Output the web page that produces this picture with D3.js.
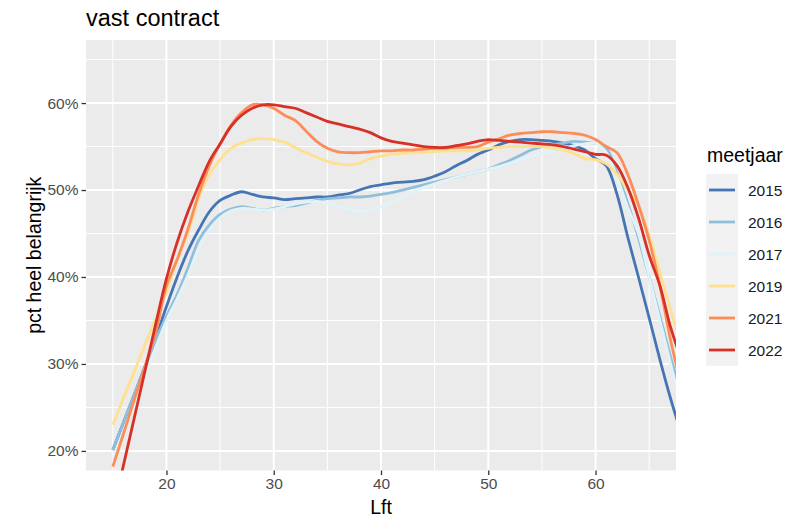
<!DOCTYPE html>
<html>
<head>
<meta charset="utf-8">
<script src="https://cdn.jsdelivr.net/npm/d3@7"></script>
<style>
  body { margin: 0; background: #fff; }
  text { font-family: "Liberation Sans", Arial, sans-serif; }
</style>
</head>
<body>
<div id="chart"></div>
<script>
// leeftijd 15..68
const ages = d3.range(15, 69);

const years = ["2015", "2016", "2017", "2019", "2021", "2022"];
const colors = ["#4575b4", "#91bfdb", "#e0f3f8", "#fee090", "#fc8d59", "#d73027"];

const xTicks = [20, 30, 40, 50, 60];
const yTicks = [0.2, 0.3, 0.4, 0.5, 0.6];

const v2015 = [20.1, 23.3, 26.5, 29.7, 33.0, 36.6, 40.0, 43.0, 45.4, 47.5, 48.8, 49.4, 49.8, 49.5, 49.2,
  49.1, 48.9, 49.0, 49.1, 49.2, 49.2, 49.4, 49.6, 50.0, 50.4, 50.6, 50.8, 50.9, 51.0, 51.2,
  51.6, 52.1, 52.8, 53.4, 54.1, 54.6, 55.2, 55.6, 55.8, 55.8, 55.7, 55.6, 55.4, 55.1, 54.6,
  53.6, 52.8, 49.5, 44.6, 40.0, 35.3, 30.5, 26.0, 22.0];
const v2016 = [20.1, 23.3, 26.5, 29.6, 32.8, 35.5, 38.0, 41.0, 44.2, 46.0, 47.2, 47.8, 48.1, 47.9, 47.7,
  47.9, 48.1, 48.2, 48.5, 48.8, 49.0, 49.1, 49.2, 49.2, 49.3, 49.5, 49.7, 50.0, 50.3, 50.6,
  50.9, 51.2, 51.5, 51.8, 52.1, 52.4, 52.9, 53.4, 54.0, 54.6, 55.0, 55.2, 55.4, 55.6, 55.5,
  55.4, 54.8, 52.0, 48.5, 44.5, 40.0, 35.5, 30.8, 26.5];
const v2017 = [19.0, 22.2, 25.4, 28.6, 31.8, 35.0, 37.5, 40.2, 43.2, 45.3, 46.8, 47.6, 47.9, 47.8, 47.7,
  47.8, 48.1, 48.4, 48.6, 48.7, 48.5, 48.1, 47.8, 47.5, 47.7, 48.1, 48.6, 49.2, 49.8, 50.3,
  50.7, 51.1, 51.5, 51.8, 52.1, 52.4, 52.7, 53.1, 53.5, 53.9, 54.2, 54.5, 54.8, 55.1, 55.3,
  55.4, 54.3, 51.5, 48.0, 45.0, 40.0, 35.0, 30.0, 25.0];
const v2019 = [23.0, 26.1, 29.1, 32.2, 35.2, 38.3, 42.0, 45.0, 49.0, 51.8, 53.5, 54.8, 55.4, 55.8, 55.9,
  55.8, 55.5, 54.9, 54.3, 53.8, 53.3, 53.0, 52.9, 53.1, 53.6, 53.9, 54.1, 54.2, 54.3, 54.4,
  54.4, 54.5, 54.5, 54.5, 54.6, 54.8, 54.9, 55.0, 55.0, 55.0, 55.0, 54.8, 54.6, 54.2, 53.6,
  53.5, 53.0, 51.8, 50.0, 48.2, 44.8, 40.5, 36.2, 32.0];
const v2021 = [18.2, 22.0, 25.9, 29.7, 33.6, 39.0, 42.0, 45.5, 49.5, 52.8, 55.3, 57.4, 58.9, 59.8, 59.8,
  59.4, 58.6, 58.0, 56.8, 55.6, 54.8, 54.4, 54.3, 54.3, 54.4, 54.5, 54.5, 54.6, 54.6, 54.7,
  54.8, 54.8, 54.9, 54.9, 55.0, 55.5, 55.9, 56.3, 56.5, 56.6, 56.7, 56.7, 56.6, 56.5, 56.3,
  55.8, 55.0, 54.3, 51.8, 48.3, 44.2, 39.0, 32.7, 27.5];
const v2022 = [13.0, 18.4, 23.8, 29.2, 34.6, 39.8, 44.0, 47.5, 50.5, 53.3, 55.3, 57.3, 58.6, 59.4, 59.8,
  59.8, 59.6, 59.4, 58.9, 58.4, 57.9, 57.6, 57.3, 57.0, 56.6, 56.0, 55.6, 55.4, 55.2, 55.0,
  54.9, 54.9, 55.1, 55.3, 55.6, 55.8, 55.7, 55.6, 55.5, 55.4, 55.3, 55.2, 55.0, 54.7, 54.4,
  54.1, 54.0, 52.8, 50.3, 46.8, 42.5, 39.0, 34.2, 30.5];

const seriesValues = [v2015, v2016, v2017, v2019, v2021, v2022];

const W = 800, H = 521;
const panel = { left: 86, right: 676, top: 40, bottom: 470.5 };

const svg = d3.select("#chart")
  .append("svg")
  .attr("width", W)
  .attr("height", H);

const x = d3.scaleLinear()
  .domain([12.5, 67.5])
  .range([panel.left, panel.right]);

const y = d3.scaleLinear()
  .domain([0.1775, 0.6725])
  .range([panel.bottom, panel.top]);

// panel background
svg.append("rect")
  .attr("x", panel.left)
  .attr("y", panel.top)
  .attr("width", panel.right - panel.left)
  .attr("height", panel.bottom - panel.top)
  .attr("fill", "#ebebeb");

const grid = svg.append("g");

// minor grid
const xMinor = d3.range(15, 70, 10);
const yMinor = d3.range(0.15, 0.70, 0.1);
grid.selectAll(".xminor")
  .data(xMinor)
  .enter()
  .append("line")
  .attr("x1", d => x(d)).attr("x2", d => x(d))
  .attr("y1", panel.top).attr("y2", panel.bottom)
  .attr("stroke", "#fff").attr("stroke-width", 1);
grid.selectAll(".yminor")
  .data(yMinor.filter(d => y(d) > panel.top && y(d) < panel.bottom))
  .enter()
  .append("line")
  .attr("x1", panel.left).attr("x2", panel.right)
  .attr("y1", d => y(d)).attr("y2", d => y(d))
  .attr("stroke", "#fff").attr("stroke-width", 1);

// major grid
grid.selectAll(".xmajor")
  .data(xTicks)
  .enter()
  .append("line")
  .attr("x1", d => x(d)).attr("x2", d => x(d))
  .attr("y1", panel.top).attr("y2", panel.bottom)
  .attr("stroke", "#fff").attr("stroke-width", 2);
grid.selectAll(".ymajor")
  .data(yTicks)
  .enter()
  .append("line")
  .attr("x1", panel.left).attr("x2", panel.right)
  .attr("y1", d => y(d)).attr("y2", d => y(d))
  .attr("stroke", "#fff").attr("stroke-width", 2);

// clip lines to the panel
svg.append("clipPath")
  .attr("id", "clip")
  .append("rect")
  .attr("x", panel.left)
  .attr("y", panel.top)
  .attr("width", panel.right - panel.left)
  .attr("height", panel.bottom - panel.top);

const line = d3.line()
  .x(d => x(d.age))
  .y(d => y(d.value / 100))
  .curve(d3.curveCatmullRom);

const series = years.map((yr, i) => ({
  year: yr,
  color: colors[i],
  points: ages.map((a, j) => ({ age: a, value: seriesValues[i][j] }))
}));

svg.append("g")
  .attr("clip-path", "url(#clip)")
  .selectAll("path")
  .data(series)
  .enter()
  .append("path")
  .attr("d", d => line(d.points))
  .attr("fill", "none")
  .attr("stroke", d => d.color)
  .attr("stroke-width", 2.8)
  .attr("stroke-linejoin", "round");

// axes
const xAxis = svg.append("g")
  .attr("transform", "translate(0," + panel.bottom + ")")
  .call(d3.axisBottom(x).tickValues(xTicks).tickSize(4.5).tickPadding(3));

const yAxis = svg.append("g")
  .attr("transform", "translate(" + panel.left + ",0)")
  .call(d3.axisLeft(y).tickValues(yTicks).tickSize(4.5).tickPadding(3)
    .tickFormat(d3.format(".0%")));

[xAxis, yAxis].forEach(ax => {
  ax.select(".domain").remove();
  ax.selectAll(".tick line").attr("stroke", "#333").attr("stroke-width", 1.3);
  ax.selectAll(".tick text")
    .attr("fill", "#4d4d4d")
    .style("font-size", "15.5px")
    .style("font-family", "Liberation Sans, Arial, sans-serif");
});

// titles
svg.append("text")
  .attr("x", panel.left)
  .attr("y", 26)
  .style("font-size", "23.5px")
  .attr("fill", "#000")
  .text("vast contract");

svg.append("text")
  .attr("x", (panel.left + panel.right) / 2)
  .attr("y", 514)
  .attr("text-anchor", "middle")
  .style("font-size", "19.5px")
  .text("Lft");

svg.append("text")
  .attr("transform", "rotate(-90)")
  .attr("x", -(panel.top + panel.bottom) / 2)
  .attr("y", 41)
  .attr("text-anchor", "middle")
  .style("font-size", "19.5px")
  .text("pct heel belangrijk");

// legend
const legend = svg.append("g")
  .attr("transform", "translate(706,0)");

legend.append("text")
  .attr("x", 1)
  .attr("y", 162)
  .style("font-size", "19.5px")
  .text("meetjaar");

legend.append("rect")
  .attr("x", 0)
  .attr("y", 174)
  .attr("width", 32)
  .attr("height", 192)
  .attr("fill", "#f2f2f2");

const keys = legend.selectAll(".key")
  .data(series)
  .enter()
  .append("g")
  .attr("transform", (d, i) => "translate(0," + (190 + i * 32) + ")");

keys.append("line")
  .attr("x1", 3)
  .attr("x2", 29)
  .attr("stroke", d => d.color)
  .attr("stroke-width", 2.8);

keys.append("text")
  .attr("x", 42)
  .attr("dy", "0.36em")
  .style("font-size", "15.5px")
  .attr("fill", "#1a1a1a")
  .text(d => d.year);
</script>
</body>
</html>
